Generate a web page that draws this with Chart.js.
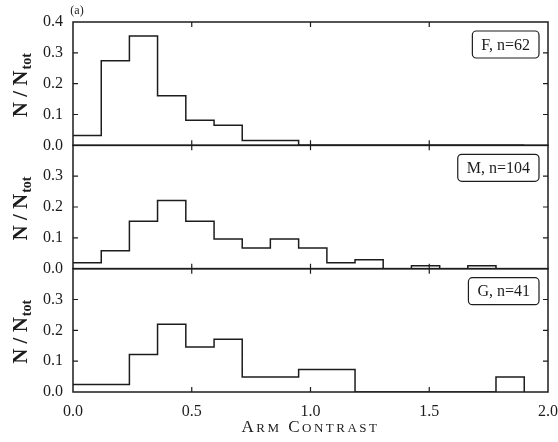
<!DOCTYPE html>
<html>
<head>
<meta charset="utf-8">
<script src="https://cdn.jsdelivr.net/npm/chart.js@4.4.0/dist/chart.umd.min.js"></script>
<style>
html, body { margin: 0; padding: 0; background: #fff; }
#chart { display: block; }
</style>
</head>
<body>
<canvas id="chart" width="558" height="442"></canvas>
<script>
// left edges of the 16 bins, last entry is the right edge of the last bin
const binEdges = [0, 0.119, 0.2375, 0.356, 0.475, 0.594, 0.7125, 0.831, 0.95,
	1.069, 1.1875, 1.306, 1.425, 1.544, 1.6625, 1.781, 1.9];

// N / Ntot per bin
const fracF = [0.032, 0.274, 0.355, 0.161, 0.081, 0.065, 0.016, 0.016, 0, 0, 0, 0, 0, 0, 0, 0];
const fracM = [0.019, 0.058, 0.154, 0.221, 0.154, 0.096, 0.067, 0.096, 0.067, 0.019, 0.029, 0, 0.0096, 0, 0.0096, 0];
const fracG = [0.024, 0.024, 0.122, 0.220, 0.146, 0.171, 0.049, 0.049, 0.073, 0.073, 0, 0, 0, 0, 0, 0.049];

const panelNames = ['F, n=62', 'M, n=104', 'G, n=41'];
const xTickMarks = [0.5, 1.0, 1.5];
const yTickMarks = [0.1, 0.2, 0.3];

const INK = '#1c1c1c';
const SERIF = '"Liberation Serif", "DejaVu Serif", serif';

function stepPoints(fracs) {
	const pts = fracs.map((v, i) => ({x: binEdges[i], y: v}));
	pts.push({x: binEdges[binEdges.length - 1], y: 0});
	return pts;
}

function histSet(fracs, axis) {
	return {
		data: stepPoints(fracs),
		yAxisID: axis,
		stepped: 'before',
		borderColor: INK,
		borderWidth: 1.5,
		pointRadius: 0,
		fill: false
	};
}

function yScale(showTop) {
	return {
		type: 'linear',
		position: 'left',
		stack: 'panels',
		stackWeight: 1,
		min: 0,
		max: 0.4,
		grid: {display: false, drawTicks: false},
		border: {display: false},
		ticks: {
			stepSize: 0.1,
			autoSkip: false,
			padding: 10,
			color: INK,
			font: {family: SERIF, size: 16},
			callback: (v) => (!showTop && v > 0.35) ? '' : v.toFixed(1)
		},
		afterFit: (s) => { s.width = 73; }
	};
}

const panelDecor = {
	id: 'panelDecor',
	afterDraw(chart) {
		const ctx = chart.ctx;
		const xs = chart.scales.x;
		const panels = [chart.scales.yF, chart.scales.yM, chart.scales.yG];
		const left = xs.left, right = xs.right;
		ctx.save();
		ctx.strokeStyle = INK;
		ctx.fillStyle = INK;
		panels.forEach((ys, i) => {
			const top = ys.top, bottom = ys.bottom;
			ctx.lineWidth = 1.5;
			ctx.strokeRect(left, top, right - left, bottom - top);

			// inward ticks
			ctx.lineWidth = 1.2;
			ctx.beginPath();
			yTickMarks.forEach(v => {
				const py = ys.getPixelForValue(v);
				ctx.moveTo(left, py); ctx.lineTo(left + 5, py);
				ctx.moveTo(right, py); ctx.lineTo(right - 5, py);
			});
			xTickMarks.forEach(v => {
				const px = xs.getPixelForValue(v);
				ctx.moveTo(px, bottom); ctx.lineTo(px, bottom - 5);
				ctx.moveTo(px, top); ctx.lineTo(px, top + 5);
			});
			ctx.stroke();

			// label box
			ctx.font = '16px ' + SERIF;
			const w = ctx.measureText(panelNames[i]).width + 18;
			const h = 27;
			const bx = right - 9 - w, by = top + 9;
			ctx.beginPath();
			ctx.roundRect(bx, by, w, h, 4);
			ctx.fillStyle = '#fff';
			ctx.fill();
			ctx.lineWidth = 1.2;
			ctx.stroke();
			ctx.fillStyle = INK;
			ctx.textAlign = 'center';
			ctx.textBaseline = 'middle';
			ctx.fillText(panelNames[i], bx + w / 2, by + h / 2 + 1);

			// y title N / N_tot
			const cy = (top + bottom) / 2 + 2;
			ctx.save();
			ctx.translate(20, cy);
			ctx.rotate(-Math.PI / 2);
			ctx.textAlign = 'left';
			ctx.textBaseline = 'alphabetic';
			const main = 'N / N', sub = 'tot';
			ctx.font = 'bold 21px ' + SERIF;
			const w1 = ctx.measureText(main).width;
			ctx.font = 'bold 14px ' + SERIF;
			const w2 = ctx.measureText(sub).width;
			const x0 = -(w1 + w2) / 2;
			ctx.font = 'bold 21px ' + SERIF;
			ctx.fillText(main, x0, 7);
			ctx.font = 'bold 14px ' + SERIF;
			ctx.fillText(sub, x0 + w1 + 1, 11);
			ctx.restore();
		});

		// x title in small caps
		const parts = [['A', 17], ['RM', 13], [' ', 17], ['C', 17], ['ONTRAST', 13]];
		ctx.textAlign = 'left';
		ctx.textBaseline = 'alphabetic';
		if ('letterSpacing' in ctx) ctx.letterSpacing = '2.5px';
		let total = 0;
		parts.forEach(p => { ctx.font = p[1] + 'px ' + SERIF; total += ctx.measureText(p[0]).width; });
		let tx = (left + right) / 2 - total / 2;
		parts.forEach(p => {
			ctx.font = p[1] + 'px ' + SERIF;
			ctx.fillText(p[0], tx, 432);
			tx += ctx.measureText(p[0]).width;
		});
		if ('letterSpacing' in ctx) ctx.letterSpacing = '0px';

		// panel tag
		ctx.font = '12px ' + SERIF;
		ctx.textAlign = 'center';
		ctx.textBaseline = 'middle';
		ctx.fillText('(a)', 77, 11);
		ctx.restore();
	}
};

const config = {
	type: 'line',
	data: {
		datasets: [
			histSet(fracG, 'yG'),
			histSet(fracM, 'yM'),
			histSet(fracF, 'yF')
		]
	},
	options: {
		responsive: false,
		animation: false,
		devicePixelRatio: 1,
		layout: {padding: {top: 22, right: 0, left: 0, bottom: 0}},
		plugins: {
			legend: {display: false},
			tooltip: {enabled: false}
		},
		scales: {
			x: {
				type: 'linear',
				min: 0,
				max: 2,
				grid: {display: false, drawTicks: false},
				border: {display: false},
				ticks: {
					stepSize: 0.5,
					padding: 10,
					color: INK,
					font: {family: SERIF, size: 16},
					callback: (v) => v.toFixed(1)
				},
				afterFit: (s) => {
					s.height = 50;
					s.paddingLeft = 0;
					s.paddingRight = 10;
				}
			},
			// defined bottom to top, the last one is stacked on top
			yG: yScale(false),
			yM: yScale(false),
			yF: yScale(true)
		}
	},
	plugins: [panelDecor]
};

const myChart = new Chart(document.getElementById('chart'), config);
</script>
</body>
</html>
